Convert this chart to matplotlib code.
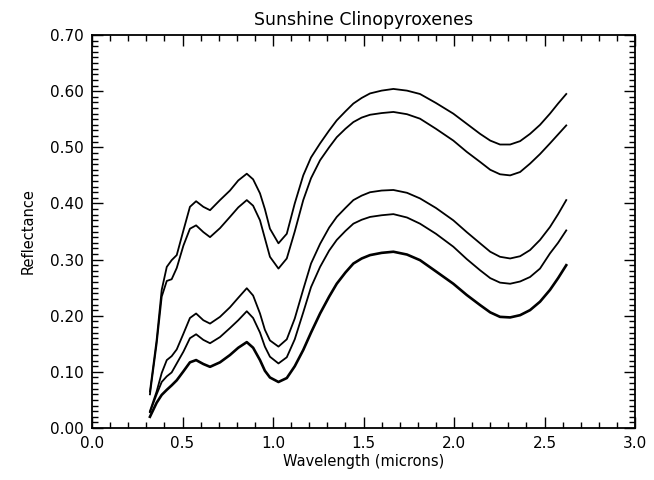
import matplotlib
matplotlib.use("Agg")
import matplotlib.pyplot as plt
from matplotlib.ticker import MultipleLocator, FormatStrFormatter

# wavelength samples (microns)
wavelength = [0.32, 0.357, 0.385, 0.413, 0.44, 0.468, 0.505, 0.541, 0.575, 0.615,
              0.652, 0.707, 0.762, 0.808, 0.855, 0.89, 0.928, 0.955, 0.983, 1.03,
              1.076, 1.12, 1.167, 1.21, 1.26, 1.31, 1.352, 1.40, 1.444, 1.49,
              1.536, 1.60, 1.665, 1.74, 1.812, 1.90, 1.996, 2.07, 2.144, 2.20,
              2.254, 2.31, 2.365, 2.42, 2.475, 2.53, 2.575, 2.62]

# reflectance of the five spectra, top to bottom
refl_1 = [0.065, 0.157, 0.246, 0.287, 0.299, 0.308, 0.352, 0.394, 0.404, 0.394,
          0.388, 0.406, 0.423, 0.441, 0.453, 0.443, 0.418, 0.390, 0.355, 0.329,
          0.346, 0.400, 0.450, 0.482, 0.507, 0.530, 0.548, 0.564, 0.578, 0.588,
          0.596, 0.601, 0.604, 0.601, 0.595, 0.579, 0.560, 0.542, 0.524, 0.512,
          0.505, 0.505, 0.511, 0.524, 0.540, 0.560, 0.578, 0.595]
refl_2 = [0.060, 0.150, 0.234, 0.262, 0.265, 0.285, 0.325, 0.355, 0.361, 0.349,
          0.340, 0.356, 0.376, 0.393, 0.406, 0.396, 0.370, 0.338, 0.305, 0.284,
          0.302, 0.350, 0.406, 0.445, 0.477, 0.500, 0.518, 0.533, 0.545, 0.553,
          0.558, 0.561, 0.563, 0.559, 0.551, 0.533, 0.512, 0.492, 0.474, 0.460,
          0.452, 0.450, 0.456, 0.471, 0.488, 0.507, 0.523, 0.539]
refl_3 = [0.030, 0.065, 0.098, 0.121, 0.128, 0.140, 0.168, 0.196, 0.204, 0.192,
          0.186, 0.198, 0.215, 0.232, 0.249, 0.236, 0.204, 0.175, 0.156, 0.145,
          0.158, 0.195, 0.247, 0.293, 0.328, 0.357, 0.376, 0.392, 0.406, 0.414,
          0.420, 0.423, 0.424, 0.419, 0.409, 0.392, 0.370, 0.349, 0.329, 0.314,
          0.305, 0.302, 0.306, 0.317, 0.335, 0.358, 0.381, 0.406]
refl_4 = [0.028, 0.060, 0.082, 0.092, 0.099, 0.115, 0.136, 0.160, 0.167, 0.157,
          0.151, 0.162, 0.178, 0.192, 0.208, 0.196, 0.170, 0.145, 0.127, 0.115,
          0.126, 0.158, 0.206, 0.251, 0.287, 0.316, 0.335, 0.351, 0.364, 0.371,
          0.376, 0.379, 0.381, 0.375, 0.364, 0.346, 0.323, 0.301, 0.281, 0.267,
          0.259, 0.257, 0.261, 0.269, 0.284, 0.311, 0.330, 0.352]
refl_5 = [0.020, 0.045, 0.059, 0.068, 0.076, 0.085, 0.101, 0.117, 0.121, 0.114,
          0.109, 0.117, 0.130, 0.143, 0.153, 0.143, 0.121, 0.102, 0.090, 0.082,
          0.089, 0.110, 0.139, 0.170, 0.204, 0.234, 0.257, 0.277, 0.293, 0.302,
          0.308, 0.312, 0.314, 0.309, 0.299, 0.279, 0.257, 0.237, 0.219, 0.206,
          0.198, 0.197, 0.201, 0.210, 0.225, 0.246, 0.267, 0.290]

plt.rcParams['font.family'] = ['DejaVu Sans']

fig = plt.figure(figsize=(6.54, 4.8), dpi=100)
ax = fig.add_axes([0.1407, 0.1083, 0.8303, 0.8187])

for r in [refl_1, refl_2, refl_3, refl_4]:
    ax.plot(wavelength, r, color='black', lw=1.3, solid_joinstyle='round')
ax.plot(wavelength, refl_5, color='black', lw=1.9, solid_joinstyle='round')

ax.set_xlim(0, 3.0)
ax.set_ylim(0, 0.70)
ax.xaxis.set_major_locator(MultipleLocator(0.5))
ax.xaxis.set_minor_locator(MultipleLocator(0.1))
ax.yaxis.set_major_locator(MultipleLocator(0.1))
ax.yaxis.set_minor_locator(MultipleLocator(0.01))
ax.xaxis.set_major_formatter(FormatStrFormatter('%.1f'))
ax.yaxis.set_major_formatter(FormatStrFormatter('%.2f'))
ax.tick_params(which='both', direction='in', top=True, right=True, width=1.0,
               labelsize=11, colors='black')
ax.tick_params(which='major', length=8, pad=6)
ax.tick_params(which='minor', length=4)
for s in ax.spines.values():
    s.set_linewidth(1.3)

ax.set_title("Sunshine Clinopyroxenes", fontsize=12.5, pad=7)
ax.set_xlabel("Wavelength (microns)", fontsize=10.5, labelpad=2)
ax.set_ylabel("Reflectance", fontsize=10.5, labelpad=10)

fig.savefig("out.png", dpi=100, facecolor='white')
